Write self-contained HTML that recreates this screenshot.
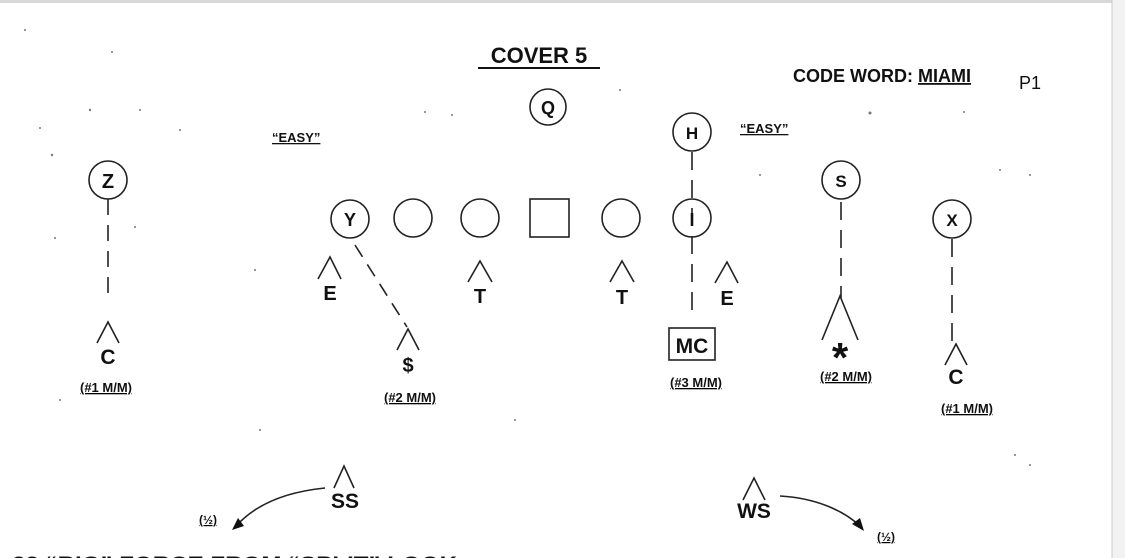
<!DOCTYPE html>
<html><head><meta charset="utf-8"><style>
html,body{margin:0;padding:0;background:#fff;}
svg{display:block;}
text{font-family:"Liberation Sans",Arial,sans-serif;fill:#111;}
</style></head><body>
<svg width="1125" height="558" viewBox="0 0 1125 558" xmlns="http://www.w3.org/2000/svg">
<rect width="1125" height="558" fill="#fff"/>
<rect x="0" y="0" width="1125" height="3" fill="#d8d8d8"/>
<rect x="1112" y="0" width="13" height="558" fill="#f2f2f2"/>
<line x1="1112" y1="0" x2="1112" y2="558" stroke="#ccc" stroke-width="1"/>

<g stroke="#222" stroke-width="1.6" fill="none">
<circle cx="108" cy="180" r="19"/>
<circle cx="350" cy="219" r="19"/>
<circle cx="413" cy="218" r="19"/>
<circle cx="480" cy="218" r="19"/>
<rect x="530" y="199" width="39" height="38"/>
<circle cx="621" cy="218" r="19"/>
<circle cx="692" cy="218" r="19"/>
<circle cx="692" cy="132" r="19"/>
<circle cx="548" cy="107" r="18"/>
<circle cx="841" cy="180" r="19"/>
<circle cx="952" cy="219" r="19"/>
<rect x="669" y="328" width="46" height="32"/>
<line x1="108" y1="199" x2="108" y2="300" stroke-dasharray="16,10"/>
<line x1="355" y1="245" x2="407" y2="327" stroke-dasharray="14,9"/>
<line x1="692" y1="152" x2="692" y2="320" stroke-dasharray="18,10"/>
<line x1="841" y1="202" x2="841" y2="298" stroke-dasharray="18,10"/>
<line x1="952" y1="239" x2="952" y2="342" stroke-dasharray="18,10"/>
<polyline points="318,279 330,257 341,279"/>
<polyline points="468,282 480,261 492,282"/>
<polyline points="610,282 622,261 634,282"/>
<polyline points="715,283 727,262 738,283"/>
<polyline points="97,343 108,322 119,343"/>
<polyline points="397,350 408,329 419,350"/>
<polyline points="822,340 840,296 858,340"/>
<polyline points="945,365 956,344 967,365"/>
<polyline points="334,488 344,466 354,488"/>
<polyline points="743,500 754,478 765,500"/>
<path d="M325,488 C285,492 255,505 236,526"/>
<path d="M780,496 C815,498 843,510 860,526"/>
</g>
<polygon points="232,530 238,518 244,526" fill="#111"/>
<polygon points="864,531 852,524 860,518" fill="#111"/>

<g font-weight="bold" text-anchor="middle">
<text x="108" y="188" font-size="20">Z</text>
<text x="350" y="226" font-size="18">Y</text>
<text x="692" y="226" font-size="18">I</text>
<text x="692" y="139" font-size="17">H</text>
<text x="548" y="114" font-size="18">Q</text>
<text x="841" y="187" font-size="17">S</text>
<text x="952" y="226" font-size="17">X</text>
<text x="330" y="300" font-size="20">E</text>
<text x="480" y="303" font-size="20">T</text>
<text x="622" y="304" font-size="20">T</text>
<text x="727" y="305" font-size="20">E</text>
<text x="108" y="364" font-size="21">C</text>
<text x="408" y="372" font-size="20">$</text>
<text x="692" y="353" font-size="21">MC</text>
<text x="840" y="372" font-size="42">*</text>
<text x="956" y="384" font-size="21">C</text>
<text x="345" y="508" font-size="21">SS</text>
<text x="754" y="518" font-size="21">WS</text>
</g>

<g font-size="13" font-weight="bold" text-anchor="middle" text-decoration="underline">
<text x="106" y="392">(#1 M/M)</text>
<text x="410" y="402">(#2 M/M)</text>
<text x="696" y="387">(#3 M/M)</text>
<text x="846" y="381">(#2 M/M)</text>
<text x="967" y="413">(#1 M/M)</text>
<text x="208" y="524" font-size="12">(½)</text>
<text x="886" y="541" font-size="12">(½)</text>
</g>

<text x="539" y="63" font-size="22" font-weight="bold" text-anchor="middle">COVER  5</text>
<line x1="478" y1="68" x2="600" y2="68" stroke="#111" stroke-width="2"/>
<text x="793" y="82" font-size="18" font-weight="bold">CODE WORD: <tspan text-decoration="underline">MIAMI</tspan></text>
<text x="1019" y="89" font-size="18">P1</text>
<text x="272" y="142" font-size="13" font-weight="bold" text-decoration="underline">“EASY”</text>
<text x="740" y="133" font-size="13" font-weight="bold" text-decoration="underline">“EASY”</text>
<text x="12" y="571" font-size="21" font-weight="bold" textLength="445" lengthAdjust="spacingAndGlyphs">22  “BIG” FORCE FROM “SPLIT” LOOK</text>

<g fill="#777">
<circle cx="25" cy="30" r="1"/><circle cx="112" cy="52" r="1"/><circle cx="90" cy="110" r="1.2"/>
<circle cx="52" cy="155" r="1.2"/><circle cx="40" cy="128" r="1"/><circle cx="140" cy="110" r="1"/>
<circle cx="180" cy="130" r="1"/><circle cx="425" cy="112" r="1"/><circle cx="452" cy="115" r="1"/>
<circle cx="620" cy="90" r="1"/><circle cx="870" cy="113" r="1.5"/><circle cx="964" cy="112" r="1"/>
<circle cx="1030" cy="175" r="1"/><circle cx="1000" cy="170" r="1"/><circle cx="760" cy="175" r="1"/>
<circle cx="55" cy="238" r="1"/><circle cx="135" cy="227" r="1"/><circle cx="255" cy="270" r="1"/>
<circle cx="60" cy="400" r="1"/><circle cx="260" cy="430" r="1"/><circle cx="515" cy="420" r="1"/>
<circle cx="1030" cy="465" r="1"/><circle cx="1015" cy="455" r="1"/>
</g>
</svg>
</body></html>
